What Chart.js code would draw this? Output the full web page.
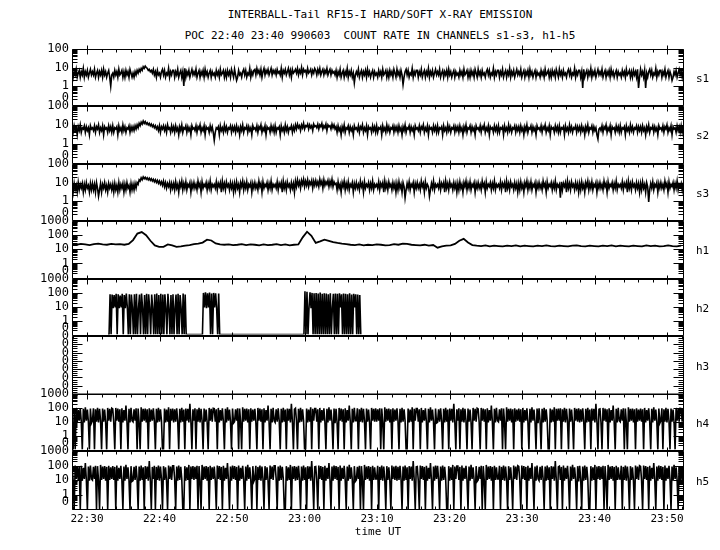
<!DOCTYPE html>
<html>
<head>
<meta charset="utf-8">
<script src="https://cdn.jsdelivr.net/npm/chart.js@4.4.0/dist/chart.umd.min.js"></script>
<style>
  body { margin: 0; background: #fff; }
  #wrap { position: relative; width: 720px; height: 550px; overflow: hidden; font-family: "DejaVu Sans Mono", monospace; color: #000; }
  .t { position: absolute; left: 0; width: 760px; text-align: center; font-size: 11px; line-height: 13px; white-space: pre; }
  canvas { position: absolute; left: 0; }
</style>
</head>
<body>
<div id="wrap">
  <div class="t" style="top:8px">INTERBALL-Tail RF15-I HARD/SOFT X-RAY EMISSION</div>
  <div class="t" style="top:29px">POC 22:40 23:40 990603  COUNT RATE IN CHANNELS s1-s3, h1-h5</div>
</div>
<script>
// time in minutes after 22:00 UT
const T_MIN = 27.93, T_MAX = 112.34;
const START = 27.95, STEP = 0.14;    // s1-s3, h4, h5 (one sample ~ one pixel)
const H1_STEP = 0.6;                 // h1
const H2_START = 32.9;               // h2 (burst interval only)
const timeTicks = [30, 40, 50, 60, 70, 80, 90, 100, 110];
const decades3 = [0.1, 1, 10, 100];
const decades4 = [0.1, 1, 10, 100, 1000];
const zeroTicks = [1, 2, 3, 4, 5, 6, 7];

// count rates, 0 = no counts; rows of 20 samples
const s1 = [
  7,3,6,4,8,3,5,7,3,6, 4,9,3,6,4,7,3,5,8,4,
  6,4,8,3,5,7,3,6,4,7, 3,8,4,6,3,5,7,3,1,4,
  5,3,7,4,6,3,8,4,5,7, 3,6,3,7,4,6,3,8,5,3,
  5,3,6,4,7,5,8,6,9,7, 11,9,12,10,9,7,8,6,7,5,
  8,4,6,3,7,4,5,3,6,8, 4,7,3,5,4,9,3,6,4,7,
  7,3,6,4,8,3,5,7,3,6, 1,9,3,6,4,7,3,5,8,4,
  6,4,8,3,5,7,3,6,4,7, 3,8,4,6,3,5,7,3,6,4,
  5,3,7,4,6,3,8,4,5,7, 3,6,3,7,4,6,3,8,5,3,
  8,4,2,3,7,4,5,3,6,8, 4,7,3,5,4,9,3,6,4,7,
  8,4,9,5,7,4,8,3,6,9, 4,7,5,8,4,6,9,4,7,5,
  7,4,8,5,6,4,9,3,7,5, 8,4,6,9,4,7,3,8,5,6,
  8,5,9,4,7,5,10,4,8,6, 7,4,9,5,6,8,4,7,5,9,
  7,4,8,5,9,4,6,8,4,7, 5,9,4,6,8,4,7,5,6,4,
  7,3,6,4,8,3,5,7,3,6, 4,9,3,6,4,7,3,5,1.5,4,
  6,4,8,3,5,7,3,6,4,7, 3,8,4,6,3,5,7,3,6,4,
  5,3,7,4,6,3,8,4,5,7, 3,6,3,7,4,6,3,8,5,3,
  8,4,6,3,7,4,1.2,3,6,8, 4,7,3,5,4,9,3,6,4,7,
  7,3,6,4,8,3,5,7,3,6, 4,9,3,6,4,7,3,5,8,4,
  6,4,8,3,5,7,3,6,4,7, 3,8,4,6,3,5,7,3,6,4,
  5,3,7,4,6,3,8,4,5,7, 3,6,3,7,4,6,3,8,5,3,
  8,4,6,3,7,4,5,3,6,8, 4,7,3,5,4,9,3,6,4,7,
  7,3,6,4,8,3,5,7,3,6, 4,9,3,6,4,7,3,5,8,4,
  6,4,8,3,5,7,3,6,4,7, 3,8,4,6,3,5,7,3,6,4,
  5,3,7,4,6,3,8,4,5,7, 3,6,3,7,4,6,3,8,5,3,
  8,4,6,3,7,4,5,3,6,8, 4,7,3,5,4,9,3,6,4,7,
  7,3,6,0.8,8,3,5,7,3,6, 4,9,3,6,4,7,3,5,8,4,
  6,4,8,3,5,7,3,6,4,7, 3,8,4,6,3,5,7,3,6,4,
  5,3,7,4,6,3,8,4,5,7, 3,6,3,7,4,6,3,8,0.8,3,
  8,4,6,3,7,0.8,5,3,6,8, 4,7,3,5,4,9,3,6,4,7,
  7,3,6,4,8,3,5,7,3,6, 4,2,3,6,4,7,3,5,8,4,
  6,3,7
];
const s2 = [
  8,4,9,5,7,3,8,5,10,4, 7,6,9,4,8,5,7,3,9,6,
  7,5,9,4,8,6,10,4,7,5, 9,3,8,6,7,4,9,5,8,4,
  9,4,7,6,8,3,9,5,7,4, 10,5,8,4,7,6,9,4,8,5,
  8,5,9,6,10,7,12,9,14,11, 16,12,15,11,13,10,12,9,11,8,
  10,7,9,6,8,5,9,4,8,6, 9,5,8,4,10,6,7,4,9,5,
  8,4,9,5,7,3,8,5,10,4, 7,6,9,4,8,5,7,3,9,6,
  7,5,9,4,8,6,10,4,7,5, 9,3,8,6,7,4,9,5,8,4,
  1.5,4,7,6,8,3,9,5,7,4, 10,5,8,4,7,6,9,4,8,5,
  8,4,9,5,7,3,8,5,10,4, 7,6,9,4,8,5,7,3,9,6,
  7,5,9,4,8,6,10,4,7,5, 9,3,8,6,7,4,9,5,8,4,
  9,4,7,6,8,3,9,5,7,4, 10,5,8,4,7,6,9,4,8,5,
  10,6,11,7,9,5,10,7,12,6, 9,8,11,6,10,7,9,5,11,8,
  9,7,11,6,10,8,12,6,9,7, 11,5,10,8,9,6,11,7,10,6,
  8,4,9,5,7,3,8,5,10,4, 7,6,9,4,8,5,7,3,9,6,
  7,5,9,4,8,6,10,4,7,5, 9,3,8,6,7,4,9,5,8,4,
  9,4,7,6,8,3,9,5,7,4, 10,5,8,4,7,6,9,4,8,5,
  8,4,9,5,7,3,8,5,10,4, 7,6,9,4,8,5,7,3,9,6,
  7,5,9,4,8,6,10,4,7,5, 9,3,8,6,7,4,9,5,8,4,
  9,4,7,6,8,3,9,5,7,4, 10,5,8,4,7,6,9,4,8,5,
  8,4,9,5,7,3,8,5,10,4, 7,6,9,4,8,5,7,3,9,6,
  7,5,9,4,8,6,10,4,7,5, 9,3,8,6,7,4,9,5,8,4,
  9,4,7,6,8,3,9,5,7,4, 10,5,8,4,7,6,9,4,8,5,
  8,4,9,5,7,3,8,5,10,4, 7,6,9,4,8,5,7,3,9,6,
  7,5,9,4,8,6,10,4,7,5, 9,3,8,6,7,4,9,5,8,4,
  9,4,7,6,8,3,9,5,7,4, 10,5,8,4,7,6,9,4,8,5,
  8,4,9,5,7,3,8,5,10,4, 7,6,9,4,8,5,7,3,1.8,6,
  7,5,9,4,8,6,10,4,7,5, 9,3,8,6,7,4,9,5,8,4,
  9,4,7,6,8,3,9,5,7,4, 10,5,8,4,7,6,9,4,8,5,
  8,4,9,5,7,3,8,5,10,4, 7,6,9,4,8,5,7,3,9,6,
  7,5,9,4,8,6,10,4,7,5, 9,3,8,6,7,4,9,5,8,4,
  9,4,8
];
const s3 = [
  8,3,9,4,7,3,10,4,8,5, 9,3,8,4,10,5,7,3,9,4,
  9,4,8,3,10,5,1.8,4,9,3, 8,5,10,4,7,3,9,5,8,4,
  8,3,9,4,7,3,10,4,8,5, 9,3,8,4,10,5,7,3,9,4,
  8,4,9,5,10,8,14,12,18,14, 20,16,19,15,18,14,17,13,16,12,
  15,11,14,10,13,9,12,8,11,7, 12,6,10,5,9,6,10,4,9,5,
  9,4,11,5,8,3,10,6,12,4, 9,5,11,4,8,6,10,3,9,5,
  10,5,8,4,12,6,9,3,11,5, 8,6,10,4,9,5,12,4,8,6,
  8,5,11,4,9,6,10,3,12,5, 9,4,11,6,8,4,10,5,9,3,
  9,4,11,5,8,3,10,6,12,4, 9,5,11,4,8,6,10,3,9,5,
  10,5,8,4,12,6,9,3,11,5, 8,6,10,4,9,5,12,4,8,6,
  8,5,11,4,9,6,10,3,12,5, 9,4,11,6,8,4,10,5,9,3,
  12,6,14,7,11,5,13,8,15,6, 12,7,14,6,11,8,13,5,12,7,
  13,7,11,6,15,8,12,5,14,7, 11,8,13,6,12,7,15,6,11,8,
  9,4,11,5,8,3,10,6,12,4, 9,5,11,4,8,6,10,3,9,5,
  10,5,8,4,12,6,9,3,11,5, 8,6,10,4,9,5,12,4,8,6,
  8,5,11,4,9,6,10,3,12,5, 9,4,11,6,8,4,10,5,9,3,
  9,4,11,5,8,3,10,6,1.5,4, 9,5,11,4,8,6,10,3,9,5,
  10,5,8,4,12,6,9,3,11,5, 8,6,1.8,4,9,5,12,4,8,6,
  8,5,11,4,9,6,10,3,12,5, 9,4,11,6,8,4,10,5,9,3,
  9,4,11,5,8,3,10,6,12,4, 9,5,11,4,8,6,10,3,9,5,
  10,5,8,4,12,6,9,3,11,5, 8,6,10,4,9,5,12,4,8,6,
  8,5,11,4,9,6,10,3,12,5, 9,4,11,6,8,4,10,5,9,3,
  9,4,11,5,8,3,10,6,12,4, 9,5,11,4,8,6,10,3,9,5,
  10,5,8,4,12,6,9,3,11,5, 8,6,10,4,9,5,12,4,8,6,
  8,1.5,11,4,9,6,10,3,12,5, 9,4,11,6,8,4,10,5,9,3,
  9,4,11,5,8,3,10,6,12,4, 9,5,11,4,8,6,10,3,9,5,
  10,5,8,4,12,6,9,3,11,5, 8,6,10,4,9,5,12,4,8,6,
  8,5,11,4,9,6,10,3,12,5, 9,4,11,6,8,4,10,5,9,3,
  9,4,11,5,8,3,10,6,0.9,4, 9,5,11,4,8,6,10,3,9,5,
  10,5,8,4,12,6,9,3,11,5, 8,6,10,4,9,5,12,4,8,6,
  9,4,10
];
const h1 = [
  23,21,24,22,20,23,25,22,21,24, 22,23,21,24,45,130,165,100,40,19,
  15,15,22,19,15,16,18,20,23,25, 30,48,42,26,22,21,22,20,21,23,
  20,22,21,19,22,20,21,23,20,22, 19,21,22,70,175,90,28,36,48,40,
  32,28,25,23,21,20,22,19,21,20, 22,21,19,20,23,21,25,24,21,20,
  19,21,18,20,13,16,18,19,24,40, 55,30,20,18,17,19,16,18,17,16,
  18,17,19,16,18,17,16,18,17,19, 17,16,18,17,16,18,19,17,16,18,
  17,16,18,17,19,16,18,17,16,18, 17,16,19,17,18,16,17,19,17,16,
  18
];
const h2 = [
  0, 0,80,0,75, 8,70,9,85, 0, 80,8,65,9,85, 0, 70,8,90,9,
  0,80,0, 75,9, 0,80,0,85,0, 8,75, 0, 90,9, 0,70,0, 85, 0,
  80,9, 0, 75,8, 0, 80, 0, 90, 0, 70, 0, 85, 0, 75, 0, 80,9, 0, 85,
  8, 0, 70,0, 80,0, 9,75, 0, 85, 0, 70,8, 0, 90, 0, 75,0, 0, 0,
  0,0,0,0,0,0,0,0,0,0, 0,0,0,0,
  100,9,110,8,95,9,105,0,90,0, 100,9,95,8,0,90,0,
  0,0,0,0,0,0,0,0,0,0, 0,0,0,0,0,0,0,0,0,0,
  0,0,0,0,0,0,0,0,0,0, 0,0,0,0,0,0,0,0,0,0,
  0,0,0,0,0,0,0,0,0,0, 0,0,0,0,0,0,0,0,0,0,
  0,0,0,0,0,0,0,0,0,0, 0,0,0,0,0,0,0,0,0,0,
  0,0,0,
  130,0,120,0, 9,110,8,100,
  0,95,0,100,0,90,0,105,0,85, 0,95,0,90,0,80,0,95,0,
  9,85, 0,90,0,85,0,95, 9,80,
  0,90,0,85,0,80,0,95,0,75, 0,85, 9,80, 0,75,0,70, 0
];
const h3 = [0, 0];
const h4 = [
  0,0,80,0,100,9,70,12,95,10, 0,85,9,110,12,75,10,0,90,8,
  12,95,0,80,10,100,9,85,12,0, 90,10,75,9,0,100,12,85,10,95,
  85,9,0,100,12,90,10,80,0,95, 9,70,12,150,10,0,85,9,100,12,
  10,80,12,95,0,90,9,0,110,10, 85,12,90,9,80,0,95,10,75,12,
  95,12,0,85,9,100,10,80,12,0, 0,90,9,75,10,110,0,85,12,90,
  9,80,10,95,12,0,85,9,100,10, 75,0,90,12,85,9,200,10,0,80,
  12,95,0,80,10,100,9,85,12,0, 90,10,75,9,0,100,12,85,10,95,
  90,10,80,0,100,9,70,12,95,10, 0,85,9,110,12,75,10,0,90,8,
  10,80,12,95,0,90,9,0,110,10, 85,12,90,9,80,0,95,10,75,12,
  85,9,0,100,12,90,10,80,0,95, 9,70,12,150,10,0,85,9,100,12,
  9,80,10,95,12,0,85,9,100,10, 75,0,90,12,85,9,200,10,0,80,
  95,12,0,85,9,100,10,80,12,0, 0,90,9,75,10,110,0,85,12,90,
  90,10,80,0,100,9,70,12,95,10, 0,85,9,110,12,75,10,0,90,8,
  85,9,0,100,12,90,10,80,0,95, 9,70,12,150,10,0,85,9,100,12,
  12,95,0,80,10,100,9,85,12,0, 90,10,75,9,0,100,12,85,10,95,
  10,80,12,95,0,90,9,0,110,10, 85,12,90,9,80,0,95,10,75,12,
  95,12,0,85,9,100,10,80,12,0, 0,90,9,75,10,110,0,85,12,90,
  90,10,80,0,100,9,70,12,95,10, 0,85,9,110,12,75,10,0,90,8,
  9,80,10,95,12,0,85,9,100,10, 75,0,90,12,85,9,200,10,0,80,
  12,95,0,80,10,100,9,85,12,0, 90,10,75,9,0,100,12,85,10,95,
  85,9,0,100,12,90,10,80,0,95, 9,70,12,150,10,0,85,9,100,12,
  10,80,12,95,0,90,9,0,110,10, 85,12,90,9,80,0,95,10,75,12,
  90,10,80,0,100,9,70,12,95,10, 0,85,9,110,12,75,10,0,90,8,
  95,12,0,85,9,100,10,80,12,0, 0,90,9,75,10,110,0,85,12,90,
  12,95,0,80,10,100,9,85,12,0, 90,10,75,9,0,100,12,85,10,95,
  9,80,10,95,12,0,85,9,100,10, 75,0,90,12,85,9,200,10,0,80,
  85,9,0,100,12,90,10,80,0,95, 9,70,12,150,10,0,85,9,100,12,
  10,80,12,95,0,90,9,0,110,10, 85,12,90,9,80,0,95,10,75,12,
  90,10,80,0,100,9,70,12,95,10, 0,85,9,110,12,75,10,0,90,8,
  12,95,0,80,10,100,9,85,12,0, 90,10,75,9,0,100,12,85,10,95,
  90,10,85
];
const h5 = [
  85,9,0,100,12,90,10,80,0,95, 9,70,12,150,10,0,85,9,100,12,
  10,80,12,95,0,90,9,0,110,10, 85,12,90,9,80,0,95,10,75,12,
  90,10,80,0,100,9,70,12,95,10, 0,85,9,110,12,75,10,0,90,8,
  9,80,10,95,12,0,85,9,100,10, 75,0,90,12,85,9,200,10,0,80,
  12,95,0,80,10,100,9,85,12,0, 90,10,75,9,0,100,12,85,10,95,
  95,12,0,85,9,100,10,80,12,0, 0,90,9,75,10,110,0,85,12,90,
  10,80,12,95,0,90,9,0,110,10, 85,12,90,9,80,0,95,10,75,12,
  85,9,0,100,12,90,10,80,0,95, 9,70,12,150,10,0,85,9,100,12,
  90,10,80,0,100,9,70,12,95,10, 0,85,9,110,12,75,10,0,90,8,
  12,95,0,80,10,100,9,85,12,0, 90,10,75,9,0,100,12,85,10,95,
  95,12,0,85,9,100,10,80,12,0, 0,90,9,75,10,110,0,85,12,90,
  9,80,10,95,12,0,85,9,100,10, 75,0,90,12,85,9,200,10,0,80,
  85,9,0,100,12,90,10,80,0,95, 9,70,12,150,10,0,85,9,100,12,
  90,10,80,0,100,9,70,12,95,10, 0,85,9,110,12,75,10,0,90,8,
  10,80,12,95,0,90,9,0,110,10, 85,12,90,9,80,0,95,10,75,12,
  12,95,0,80,10,100,9,85,12,0, 90,10,75,9,0,100,12,85,10,95,
  9,80,10,95,12,0,85,9,100,10, 75,0,90,12,85,9,200,10,0,80,
  85,9,0,100,12,90,10,80,0,95, 9,70,12,150,10,0,85,9,100,12,
  95,12,0,85,9,100,10,80,12,0, 0,90,9,75,10,110,0,85,12,90,
  90,10,80,0,100,9,70,12,95,10, 0,85,9,110,12,75,10,0,90,8,
  10,80,12,95,0,90,9,0,110,10, 85,12,90,9,80,0,95,10,75,12,
  12,95,0,80,10,100,9,85,12,0, 90,10,75,9,0,100,12,85,10,95,
  85,9,0,100,12,90,10,80,0,95, 9,70,12,150,10,0,85,9,100,12,
  9,80,10,95,12,0,85,9,100,10, 75,0,90,12,85,9,200,10,0,80,
  90,10,80,0,100,9,70,12,95,10, 0,85,9,110,12,75,10,0,90,8,
  95,12,0,85,9,100,10,80,12,0, 0,90,9,75,10,110,0,85,12,90,
  10,80,12,95,0,90,9,0,110,10, 85,12,90,9,80,0,95,10,75,12,
  12,95,0,80,10,100,9,85,12,0, 90,10,75,9,0,100,12,85,10,95,
  85,9,0,100,12,90,10,80,0,95, 9,70,12,150,10,0,85,9,100,12,
  90,10,80,0,100,9,70,12,95,10, 0,85,9,110,12,75,10,0,90,8,
  85,9,90
];

// layout
const FONT = '"DejaVu Sans Mono", monospace';
const PANEL_TOP = [49, 106, 164, 221, 279, 336, 394, 451, 509];
const M = 16;
const wrap = document.getElementById('wrap');

const toPts = (arr, t0, dt, floor) => arr.map((v, i) => ({ x: t0 + i * dt, y: v > 0 ? v : floor }));
const hhmm = v => `${22 + Math.floor(v / 60)}:${String(v % 60).padStart(2, '0')}`;
const line = (data, w) => ({ data, borderColor: '#000', borderWidth: w, pointRadius: 0, tension: 0, fill: false });

// frame, time ticks on every border, count ticks on both sides pointing in
const frame = {
  id: 'frame',
  afterDraw(chart, _args, o) {
    const { ctx, chartArea: a, scales: { x, y } } = chart;
    const L = Math.round(a.left) + .5, R = Math.round(a.right) - .5;
    const T = Math.round(a.top) + .5, B = Math.round(a.bottom) + .5;
    ctx.save();
    ctx.strokeStyle = '#000';
    ctx.lineWidth = 1;
    ctx.beginPath();
    ctx.moveTo(L, T); ctx.lineTo(R, T); ctx.lineTo(R, B); ctx.lineTo(L, B); ctx.closePath();
    for (let t = 28; t <= 112; t += 2) {
      const px = Math.round(x.getPixelForValue(t)) + .5;
      const major = t % 10 === 0;
      ctx.moveTo(px, T - (major ? 4 : 0)); ctx.lineTo(px, T + (major ? 5 : 3));
      if (o.last) { ctx.moveTo(px, B); ctx.lineTo(px, B - (major ? 5 : 3)); }
    }
    const yt = (v, len) => {
      const py = Math.round(y.getPixelForValue(v)) + .5;
      ctx.moveTo(L, py); ctx.lineTo(L + len, py);
      ctx.moveTo(R, py); ctx.lineTo(R - len, py);
    };
    if (y.type === 'logarithmic') {
      for (let d = y.min; d < y.max * 1.01; d *= 10) {
        yt(d, 10);
        for (let m = 2; m < 10; m++) if (m * d < y.max) yt(m * d, 5);
      }
    } else {
      for (let v = 0; v <= y.max; v++) {
        yt(v, 10);
        if (v < y.max) [0.25, 0.5, 0.75].forEach(f => yt(v + f, 5));
      }
    }
    ctx.stroke();
    ctx.fillStyle = '#000';
    ctx.font = '11px ' + FONT;
    ctx.textBaseline = 'middle';
    ctx.fillText(o.name, 696, (a.top + a.bottom) / 2 + 2);
    ctx.restore();
  }
};

const logAxis = (max, ticks) => ({
  type: 'logarithmic', min: 0.1, max,
  afterBuildTicks: s => { s.ticks = ticks.map(v => ({ value: v })); },
  ticks: { callback: v => v === 0.1 ? ['0', ''] : String(v) }
});
const zeroAxis = {
  type: 'linear', min: 0, max: 7,
  afterBuildTicks: s => { s.ticks = zeroTicks.map(v => ({ value: v })); },
  ticks: { callback: () => '0' }
};

function panel(i, name, yAxis, datasets, last) {
  const top = PANEL_TOP[i], h = PANEL_TOP[i + 1] - top;
  const cv = document.createElement('canvas');
  cv.width = 720;
  cv.height = last ? M + h + 36 : h + 2 * M;
  cv.style.top = (top - M) + 'px';
  wrap.appendChild(cv);
  const x = {
    type: 'linear', min: T_MIN, max: T_MAX, display: !!last,
    grid: { display: false, drawTicks: false }, border: { display: false },
    afterBuildTicks: s => { s.ticks = timeTicks.map(v => ({ value: v })); },
    ticks: { callback: hhmm, font: { family: FONT, size: 11 }, color: '#000', padding: 4, maxRotation: 0, autoSkip: false },
    title: { display: true, text: 'time UT', font: { family: FONT, size: 11 }, color: '#000', padding: { top: 0, bottom: 6 } }
  };
  if (last) x.afterFit = s => { s.height = 36; };
  new Chart(cv, {
    type: 'line',
    data: { datasets },
    options: {
      responsive: false, animation: false, events: [],
      layout: { padding: { top: M, bottom: last ? 0 : M, left: 0, right: 36 } },
      scales: {
        x,
        y: {
          ...yAxis, position: 'left',
          grid: { display: false, drawTicks: false }, border: { display: false },
          ticks: { ...yAxis.ticks, font: { family: FONT, size: 12 }, color: '#000', padding: 3, autoSkip: false },
          afterFit: s => { s.width = 72; }
        }
      },
      plugins: { legend: { display: false }, tooltip: { enabled: false }, frame: { name, last } }
    },
    plugins: [frame]
  });
}

panel(0, 's1', logAxis(100, decades3), [line(toPts(s1, START, STEP, 0.1), 1.6)]);
panel(1, 's2', logAxis(100, decades3), [line(toPts(s2, START, STEP, 0.1), 1.6)]);
panel(2, 's3', logAxis(100, decades3), [line(toPts(s3, START, STEP, 0.1), 1.6)]);
panel(3, 'h1', logAxis(1000, decades4), [line(toPts(h1, START, H1_STEP, 0.1), 1.8)]);
panel(4, 'h2', logAxis(1000, decades4), [line(toPts(h2, H2_START, STEP, 0.1), 1.6)]);
panel(5, 'h3', zeroAxis, [line(toPts(h3, START, 602 * STEP, 0), 1)]);
panel(6, 'h4', logAxis(1000, decades4), [line(toPts(h4, START, STEP, 0.1), 1.6)]);
panel(7, 'h5', logAxis(1000, decades4), [line(toPts(h5, START, STEP, 0.1), 1.6)], true);
</script>
</body>
</html>
